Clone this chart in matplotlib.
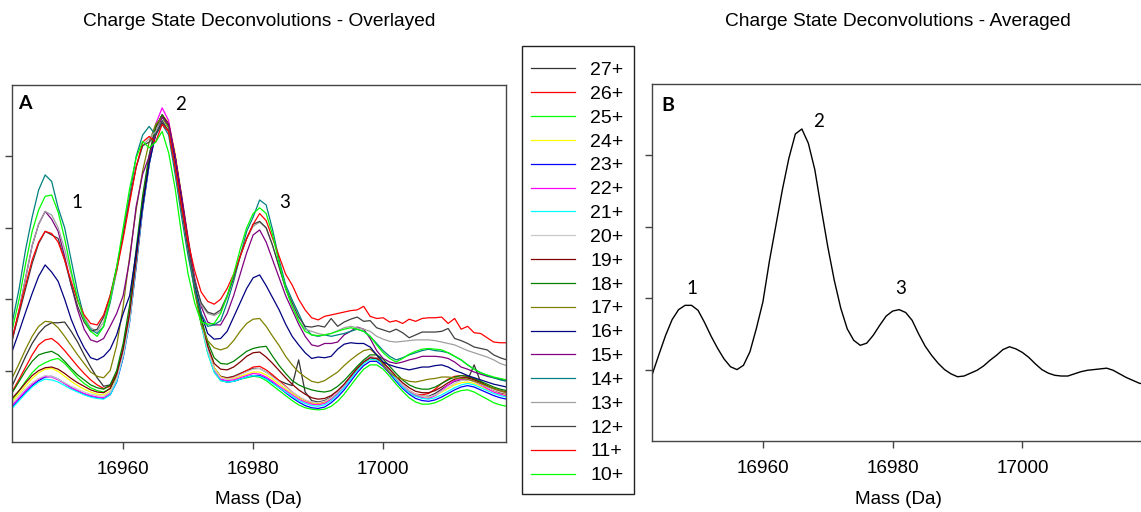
import numpy as np
import matplotlib
matplotlib.use('Agg')
import matplotlib.pyplot as plt
from matplotlib.patches import Rectangle

# ---------------- data ----------------
mass = list(range(16943, 17020))

charge_labels = ['27+', '26+', '25+', '24+', '23+', '22+', '21+', '20+', '19+',
                 '18+', '17+', '16+', '15+', '14+', '13+', '12+', '11+', '10+']

line_colors = ['#333333', '#ff0000', '#00ff00', '#ffff00', '#0000ff', '#ff00ff',
               '#00ffff', '#c8c8c8', '#800000', '#008000', '#808000', '#000080',
               '#800080', '#008080', '#a0a0a0', '#404040', '#ff0000', '#00ff00']

z27 = [0.80, 1.00, 1.20, 1.38, 1.52, 1.62, 1.67, 1.67, 1.68, 1.55,
       1.40, 1.22, 1.05, 0.90, 0.78, 0.80, 0.95, 1.28, 1.78, 2.55,
       3.35, 3.95, 4.40, 4.58, 4.45, 4.00, 3.42, 2.82, 2.22, 1.72,
       1.32, 1.04, 0.92, 0.90, 0.92, 0.96, 1.00, 1.03, 1.03, 0.98,
       0.92, 0.86, 0.82, 0.79, 1.15, 0.70, 0.58, 0.56, 0.58, 0.63,
       0.70, 0.80, 0.91, 1.02, 1.12, 1.18, 1.17, 1.10, 1.00, 0.89,
       0.79, 0.71, 0.66, 0.64, 0.64, 0.68, 0.74, 0.80, 0.85, 0.87,
       0.87, 1.08, 0.84, 0.78, 0.73, 0.69, 0.67]
z26 = [0.72, 0.88, 1.05, 1.22, 1.36, 1.43, 1.45, 1.38, 1.28, 1.17,
       1.06, 0.96, 0.87, 0.80, 0.75, 0.78, 0.95, 1.30, 1.82, 2.58,
       3.35, 3.95, 4.40, 4.57, 4.45, 4.00, 3.40, 2.80, 2.20, 1.70,
       1.30, 1.02, 0.91, 0.89, 0.91, 0.95, 1.00, 1.05, 1.06, 1.01,
       0.94, 0.86, 0.78, 0.70, 0.63, 0.58, 0.55, 0.54, 0.56, 0.62,
       0.70, 0.80, 0.92, 1.04, 1.13, 1.19, 1.18, 1.11, 1.01, 0.90,
       0.80, 0.72, 0.67, 0.66, 0.68, 0.74, 0.82, 0.88, 0.92, 0.93,
       0.92, 0.88, 0.83, 0.78, 0.73, 0.70, 0.67]
z25 = [0.60, 0.72, 0.85, 0.97, 1.06, 1.11, 1.15, 1.17, 1.10, 1.00,
       0.90, 0.82, 0.76, 0.72, 0.70, 0.75, 0.92, 1.25, 1.75, 2.50,
       3.30, 3.92, 4.38, 4.55, 4.40, 3.95, 3.35, 2.75, 2.15, 1.65,
       1.25, 0.98, 0.86, 0.84, 0.85, 0.88, 0.90, 0.92, 0.91, 0.86,
       0.79, 0.72, 0.65, 0.58, 0.52, 0.48, 0.46, 0.45, 0.46, 0.50,
       0.57, 0.67, 0.79, 0.91, 1.02, 1.08, 1.08, 1.02, 0.92, 0.81,
       0.71, 0.62, 0.56, 0.53, 0.53, 0.55, 0.59, 0.64, 0.69, 0.72,
       0.73, 0.70, 0.65, 0.60, 0.55, 0.52, 0.50]
z24 = [0.58, 0.68, 0.79, 0.89, 0.97, 1.02, 1.03, 0.99, 0.92, 0.85,
       0.79, 0.74, 0.70, 0.67, 0.66, 0.71, 0.88, 1.20, 1.70, 2.45,
       3.25, 3.88, 4.35, 4.58, 4.48, 4.05, 3.45, 2.85, 2.25, 1.74,
       1.33, 1.04, 0.91, 0.88, 0.89, 0.92, 0.95, 0.98, 0.98, 0.94,
       0.88, 0.81, 0.74, 0.68, 0.62, 0.57, 0.54, 0.53, 0.55, 0.61,
       0.69, 0.79, 0.91, 1.02, 1.11, 1.16, 1.14, 1.07, 0.97, 0.86,
       0.77, 0.69, 0.64, 0.62, 0.62, 0.65, 0.70, 0.75, 0.80, 0.83,
       0.84, 0.82, 0.78, 0.74, 0.70, 0.67, 0.65]
z23 = [0.50, 0.60, 0.70, 0.79, 0.86, 0.91, 0.92, 0.88, 0.82, 0.76,
       0.71, 0.67, 0.64, 0.62, 0.61, 0.66, 0.84, 1.18, 1.68, 2.45,
       3.25, 3.88, 4.35, 4.58, 4.45, 4.00, 3.40, 2.80, 2.20, 1.70,
       1.30, 1.00, 0.87, 0.84, 0.85, 0.88, 0.91, 0.93, 0.93, 0.89,
       0.83, 0.76, 0.69, 0.62, 0.56, 0.51, 0.48, 0.47, 0.49, 0.55,
       0.63, 0.73, 0.85, 0.97, 1.07, 1.13, 1.13, 1.06, 0.96, 0.85,
       0.75, 0.67, 0.61, 0.58, 0.57, 0.59, 0.63, 0.68, 0.73, 0.77,
       0.79, 0.77, 0.73, 0.69, 0.65, 0.62, 0.60]
z22 = [0.52, 0.62, 0.72, 0.81, 0.88, 0.92, 0.91, 0.87, 0.82, 0.76,
       0.72, 0.68, 0.65, 0.63, 0.62, 0.68, 0.88, 1.25, 1.78, 2.60,
       3.40, 4.00, 4.45, 4.68, 4.50, 4.00, 3.38, 2.78, 2.18, 1.68,
       1.28, 1.00, 0.88, 0.86, 0.87, 0.90, 0.93, 0.96, 0.95, 0.91,
       0.85, 0.78, 0.72, 0.66, 0.60, 0.56, 0.53, 0.52, 0.54, 0.60,
       0.68, 0.79, 0.91, 1.03, 1.13, 1.19, 1.17, 1.10, 1.00, 0.89,
       0.79, 0.70, 0.65, 0.62, 0.61, 0.65, 0.72, 0.80, 0.86, 0.88,
       0.88, 0.85, 0.80, 0.75, 0.70, 0.67, 0.64]
z21 = [0.48, 0.58, 0.68, 0.77, 0.84, 0.88, 0.87, 0.84, 0.79, 0.74,
       0.70, 0.66, 0.63, 0.61, 0.60, 0.66, 0.85, 1.20, 1.70, 2.50,
       3.30, 3.90, 4.35, 4.55, 4.42, 3.95, 3.35, 2.75, 2.15, 1.65,
       1.25, 0.98, 0.86, 0.84, 0.85, 0.88, 0.91, 0.93, 0.92, 0.88,
       0.82, 0.76, 0.70, 0.64, 0.58, 0.54, 0.51, 0.50, 0.52, 0.58,
       0.66, 0.76, 0.88, 1.00, 1.10, 1.16, 1.15, 1.08, 0.98, 0.87,
       0.77, 0.69, 0.64, 0.61, 0.60, 0.62, 0.66, 0.71, 0.76, 0.80,
       0.82, 0.80, 0.76, 0.72, 0.68, 0.65, 0.63]
z20 = [0.55, 0.65, 0.75, 0.83, 0.89, 0.93, 0.92, 0.88, 0.83, 0.78,
       0.74, 0.70, 0.67, 0.65, 0.64, 0.70, 0.88, 1.22, 1.72, 2.52,
       3.32, 3.92, 4.38, 4.56, 4.43, 3.97, 3.37, 2.77, 2.18, 1.68,
       1.29, 1.02, 0.90, 0.88, 0.90, 0.94, 0.98, 1.02, 1.03, 0.98,
       0.91, 0.84, 0.77, 0.70, 0.64, 0.59, 0.56, 0.55, 0.57, 0.62,
       0.70, 0.80, 0.92, 1.03, 1.13, 1.19, 1.18, 1.11, 1.01, 0.90,
       0.80, 0.72, 0.67, 0.64, 0.63, 0.66, 0.71, 0.77, 0.82, 0.86,
       0.87, 0.85, 0.81, 0.77, 0.73, 0.70, 0.68]
z19 = [0.62, 0.72, 0.83, 0.93, 1.00, 1.04, 1.05, 1.02, 0.96, 0.89,
       0.83, 0.78, 0.73, 0.70, 0.69, 0.75, 0.95, 1.30, 1.80, 2.55,
       3.35, 3.95, 4.40, 4.58, 4.45, 4.00, 3.40, 2.80, 2.20, 1.72,
       1.35, 1.10, 1.02, 1.01, 1.05, 1.12, 1.20, 1.25, 1.26, 1.19,
       1.10, 1.00, 0.90, 0.81, 0.73, 0.67, 0.62, 0.60, 0.61, 0.65,
       0.72, 0.81, 0.92, 1.03, 1.12, 1.18, 1.17, 1.11, 1.02, 0.92,
       0.83, 0.76, 0.71, 0.69, 0.69, 0.72, 0.77, 0.83, 0.88, 0.90,
       0.90, 0.87, 0.83, 0.79, 0.75, 0.72, 0.70]
z18 = [0.70, 0.85, 1.00, 1.13, 1.22, 1.25, 1.27, 1.22, 1.13, 1.03,
       0.94, 0.87, 0.80, 0.76, 0.74, 0.80, 1.00, 1.38, 1.92, 2.70,
       3.45, 4.02, 4.42, 4.58, 4.42, 3.95, 3.35, 2.75, 2.18, 1.73,
       1.40, 1.18, 1.10, 1.09, 1.13, 1.20, 1.27, 1.31, 1.33, 1.34,
       1.20, 1.07, 0.96, 0.86, 0.80, 0.76, 0.73, 0.71, 0.70, 0.72,
       0.78, 0.86, 0.96, 1.06, 1.15, 1.22, 1.22, 1.16, 1.06, 0.96,
       0.87, 0.80, 0.76, 0.74, 0.74, 0.77, 0.82, 0.87, 0.91, 0.93,
       0.92, 0.89, 0.85, 0.81, 0.77, 0.74, 0.72]
z17 = [0.91, 1.10, 1.30, 1.48, 1.62, 1.69, 1.68, 1.60, 1.48, 1.35,
       1.22, 1.10, 0.98, 0.92, 0.90, 1.00, 1.35, 1.90, 2.60, 3.25,
       3.80, 4.20, 4.45, 4.55, 4.40, 3.95, 3.35, 2.70, 2.10, 1.65,
       1.42, 1.32, 1.29, 1.32, 1.42, 1.55, 1.66, 1.72, 1.73, 1.62,
       1.48, 1.35, 1.20, 1.08, 0.98, 0.91, 0.85, 0.83, 0.86, 0.92,
       0.98, 1.07, 1.15, 1.22, 1.28, 1.30, 1.22, 1.08, 0.97, 0.91,
       0.88, 0.85, 0.84, 0.86, 0.88, 0.89, 0.91, 0.91, 0.90, 0.89,
       0.88, 0.85, 0.82, 0.78, 0.75, 0.72, 0.69]
z16 = [1.29, 1.55, 1.82, 2.08, 2.32, 2.48, 2.38, 2.25, 2.00, 1.72,
       1.50, 1.32, 1.18, 1.15, 1.20, 1.30, 1.50, 1.80, 2.05, 2.65,
       3.30, 3.90, 4.30, 4.47, 4.35, 3.95, 3.40, 2.80, 2.25, 1.80,
       1.52, 1.44, 1.45, 1.55, 1.75, 1.95, 2.15, 2.30, 2.34, 2.19,
       2.02, 1.85, 1.65, 1.48, 1.36, 1.25, 1.17, 1.19, 1.18, 1.20,
       1.30, 1.37, 1.39, 1.38, 1.38, 1.33, 1.22, 1.12, 1.08, 1.05,
       1.03, 1.01, 1.03, 1.05, 1.05, 1.07, 1.08, 1.05, 1.00, 0.97,
       0.93, 0.90, 0.87, 0.84, 0.81, 0.79, 0.77]
z15 = [1.45, 1.85, 2.30, 2.75, 3.05, 3.23, 3.12, 2.95, 2.60, 2.20,
       1.85, 1.58, 1.43, 1.40, 1.45, 1.62, 1.80, 2.05, 2.55, 3.30,
       3.75, 4.00, 4.30, 4.55, 4.45, 4.00, 3.45, 2.85, 2.30, 1.90,
       1.68, 1.64, 1.64, 1.80, 2.05, 2.35, 2.65, 2.90, 2.97, 2.80,
       2.55, 2.30, 2.05, 1.85, 1.65, 1.48, 1.36, 1.34, 1.38, 1.38,
       1.40, 1.50, 1.55, 1.61, 1.58, 1.45, 1.28, 1.17, 1.12, 1.10,
       1.12, 1.15, 1.17, 1.20, 1.20, 1.20, 1.19, 1.17, 1.12, 1.05,
       1.02, 0.98, 0.95, 0.92, 0.90, 0.88, 0.86]
z14 = [1.70, 2.15, 2.70, 3.15, 3.53, 3.74, 3.65, 3.28, 3.00, 2.55,
       2.10, 1.75, 1.58, 1.52, 1.62, 1.95, 2.40, 2.95, 3.45, 4.00,
       4.30, 4.42, 4.30, 4.45, 4.30, 3.75, 3.15, 2.60, 2.15, 1.80,
       1.62, 1.64, 1.70, 1.95, 2.25, 2.60, 2.95, 3.15, 3.39, 3.32,
       2.97, 2.55, 2.20, 1.99, 1.80, 1.60, 1.50, 1.48, 1.50, 1.48,
       1.50, 1.52, 1.55, 1.58, 1.55, 1.48, 1.38, 1.28, 1.20, 1.15,
       1.18, 1.22, 1.25, 1.28, 1.30, 1.28, 1.27, 1.25, 1.20, 1.15,
       1.08, 1.02, 0.97, 0.93, 0.90, 0.87, 0.85]
z13 = [1.45, 1.85, 2.30, 2.75, 3.05, 3.23, 3.18, 3.00, 2.70, 2.35,
       2.00, 1.75, 1.60, 1.55, 1.68, 2.00, 2.40, 2.90, 3.40, 3.85,
       4.15, 4.25, 4.35, 4.50, 4.35, 3.85, 3.25, 2.70, 2.25, 1.92,
       1.80, 1.77, 1.82, 2.02, 2.30, 2.60, 2.85, 3.02, 3.08, 3.00,
       2.75, 2.45, 2.15, 1.90, 1.70, 1.58, 1.55, 1.52, 1.50, 1.52,
       1.56, 1.60, 1.62, 1.60, 1.58, 1.55, 1.48, 1.44, 1.41, 1.40,
       1.41, 1.42, 1.43, 1.43, 1.43, 1.42, 1.40, 1.38, 1.36, 1.32,
       1.28, 1.25, 1.22, 1.19, 1.15, 1.10, 1.07]
z12 = [1.46, 1.80, 2.15, 2.50, 2.78, 2.95, 2.90, 2.85, 2.55, 2.20,
       1.90, 1.68, 1.55, 1.58, 1.75, 2.05, 2.45, 2.90, 3.40, 3.85,
       4.15, 4.20, 4.30, 4.50, 4.35, 3.85, 3.25, 2.70, 2.25, 1.95,
       1.82, 1.79, 1.85, 2.05, 2.30, 2.60, 2.85, 3.05, 3.09, 3.00,
       2.75, 2.45, 2.15, 1.95, 1.75, 1.62, 1.61, 1.63, 1.61, 1.73,
       1.62, 1.68, 1.72, 1.75, 1.69, 1.70, 1.60, 1.57, 1.54, 1.58,
       1.53, 1.46, 1.50, 1.54, 1.54, 1.54, 1.55, 1.59, 1.45, 1.42,
       1.38, 1.33, 1.31, 1.29, 1.22, 1.18, 1.15]
z11 = [1.48, 1.85, 2.20, 2.55, 2.80, 2.95, 2.92, 2.80, 2.55, 2.25,
       1.98, 1.78, 1.66, 1.64, 1.78, 2.05, 2.40, 2.85, 3.35, 3.85,
       4.20, 4.28, 4.20, 4.45, 4.35, 3.85, 3.30, 2.80, 2.40, 2.10,
       1.97, 1.93, 2.00, 2.15, 2.35, 2.60, 2.85, 3.05, 3.20, 3.10,
       2.85, 2.60, 2.35, 2.20, 2.00, 1.85, 1.74, 1.71, 1.76, 1.78,
       1.80, 1.82, 1.84, 1.85, 1.90, 1.76, 1.73, 1.74, 1.68, 1.70,
       1.66, 1.72, 1.69, 1.73, 1.74, 1.74, 1.75, 1.66, 1.73, 1.58,
       1.62, 1.53, 1.52, 1.46, 1.40, 1.39, 1.39]
z10 = [1.60, 2.00, 2.50, 2.95, 3.25, 3.44, 3.46, 3.22, 2.85, 2.40,
       2.00, 1.72, 1.55, 1.48, 1.62, 2.00, 2.45, 3.00, 3.55, 3.98,
       4.21, 4.12, 4.20, 4.35, 4.05, 3.55, 2.90, 2.35, 1.95, 1.68,
       1.65, 1.66, 1.80, 2.05, 2.35, 2.70, 3.00, 3.20, 3.28, 3.20,
       2.90, 2.50, 2.15, 1.90, 1.70, 1.55, 1.50, 1.49, 1.50, 1.52,
       1.55, 1.58, 1.60, 1.58, 1.55, 1.48, 1.36, 1.25, 1.17, 1.12,
       1.17, 1.23, 1.27, 1.30, 1.31, 1.30, 1.29, 1.25, 1.20, 1.15,
       1.08, 1.02, 0.97, 0.94, 0.91, 0.89, 0.87]

averaged = [0.95, 1.22, 1.48, 1.70, 1.84, 1.90, 1.90, 1.83, 1.66, 1.47,
            1.30, 1.15, 1.04, 1.00, 1.06, 1.25, 1.58, 1.95, 2.52, 3.02,
            3.52, 3.96, 4.30, 4.37, 4.17, 3.80, 3.25, 2.72, 2.25, 1.86,
            1.57, 1.41, 1.34, 1.37, 1.48, 1.62, 1.75, 1.82, 1.84, 1.80,
            1.69, 1.50, 1.33, 1.20, 1.09, 1.00, 0.94, 0.90, 0.91, 0.95,
            0.99, 1.05, 1.13, 1.20, 1.28, 1.32, 1.29, 1.24, 1.17, 1.08,
            1.00, 0.95, 0.92, 0.91, 0.91, 0.94, 0.97, 0.99, 1.00, 1.01,
            1.02, 0.99, 0.94, 0.89, 0.85, 0.81, 0.79]

series = [z27, z26, z25, z24, z23, z22, z21, z20, z19,
          z18, z17, z16, z15, z14, z13, z12, z11, z10]

peak_labels = ['1', '2', '3']
peak_pos_A = [(16952.9, 3.36), (16968.9, 4.73), (16984.8, 3.35)]
peak_pos_B = [(16949.0, 2.14), (16968.5, 4.47), (16981.3, 2.14)]
xticks = [16960, 16980, 17000]

# ---------------- figure ----------------
W, H = 1141, 512
fig = plt.figure(figsize=(W / 100, H / 100), dpi=100)
sans = ['Liberation Sans', 'DejaVu Sans']
cal = ['Lato', 'DejaVu Sans']
spine_col = '#444444'

axA = fig.add_axes([12 / W, 1 - 442 / H, 494 / W, 357 / H])
axB = fig.add_axes([652 / W, 1 - 441 / H, 493 / W, 357 / H])

handles = []
for lab, col, ys in zip(charge_labels, line_colors, series):
    h, = axA.plot(mass, ys, color=col, lw=0.9, label=lab)
    handles.append(h)

axB.plot(mass, averaged, color='black', lw=1.0)

for ax in (axA, axB):
    ax.set_xlim(16942.9, 17018.9)
    ax.set_ylim(0, 5)
    ax.set_xticks(xticks)
    ax.set_yticks([1, 2, 3, 4])
    ax.set_yticklabels([])
    ax.tick_params(direction='out', length=5, width=1, color=spine_col,
                   labelsize=13.6, pad=9)
    for lbl in ax.get_xticklabels():
        lbl.set_fontfamily(sans)
    for s in ax.spines.values():
        s.set_color(spine_col)
        s.set_linewidth(1.0)

for (x, y), t in zip(peak_pos_A, peak_labels):
    axA.text(x, y, t, fontsize=13.5, family=cal, ha='center', va='center')
for (x, y), t in zip(peak_pos_B, peak_labels):
    axB.text(x, y, t, fontsize=13.5, family=cal, ha='center', va='center')

axA.text(0.026, 0.947, 'A', transform=axA.transAxes, fontsize=14,
         fontweight='bold', family=cal, ha='center', va='center')
axB.text(0.033, 0.941, 'B', transform=axB.transAxes, fontsize=14,
         fontweight='bold', family=cal, ha='center', va='center')

fig.text(259 / W, 1 - 22 / H, 'Charge State Deconvolutions - Overlayed',
         fontsize=13.8, family=sans, ha='center', va='center')
fig.text(898 / W, 1 - 22 / H, 'Charge State Deconvolutions - Averaged',
         fontsize=13.8, family=sans, ha='center', va='center')
fig.text(258 / W, 1 - 500 / H, 'Mass (Da)', fontsize=13.6, family=sans,
         ha='center', va='center')
fig.text(898 / W, 1 - 500 / H, 'Mass (Da)', fontsize=13.6, family=sans,
         ha='center', va='center')

# legend box drawn as a separate frame
fig.patches.append(Rectangle((522 / W, 1 - 494 / H), 112 / W, 448 / H,
                             transform=fig.transFigure, fill=False,
                             edgecolor='#222222', linewidth=1.0))
leg = fig.legend(handles=handles, loc='upper left',
                 bbox_to_anchor=(515 / W, 1 - 46 / H), bbox_transform=fig.transFigure,
                 borderaxespad=0, frameon=False,
                 prop={'family': sans, 'size': 14}, handlelength=2.27,
                 handletextpad=0.8, labelspacing=0.32, borderpad=0.8)

fig.savefig('out.png', dpi=100)
